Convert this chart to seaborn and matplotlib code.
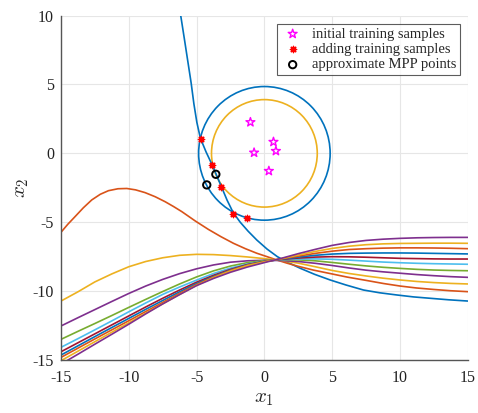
import numpy as np
import pandas as pd
import matplotlib
matplotlib.use("Agg")
import matplotlib.pyplot as plt
from matplotlib.patches import Circle
import seaborn as sns

# MATLAB default colour order
BLUE = "#0072BD"
ORANGE = "#D95319"
YELLOW = "#EDB120"
PURPLE = "#7E2F8E"
GREEN = "#77AC30"
LBLUE = "#4DBEEE"
DRED = "#A2142F"

# limit state curve
limit_x = [-6.17, -5.9, -5.65, -5.4, -5.2, -4.98, -4.72, -4.3, -3.85, -3.5, -3.17, -2.75, -2.3,
           -1.78, -1.2, -0.56, 0.2, 0.96, 1.8, 2.64, 3.7, 4.85, 6.0, 7.31, 8.5, 9.77, 11.0,
           12.23, 13.6, 15.0]
limit_y = [10.0, 8.3, 6.7, 5.1, 3.6, 2.25, 1.1, 0.1, -0.84, -1.65, -2.42, -3.4, -4.3,
           -5.0, -5.65, -6.29, -6.95, -7.5, -7.95, -8.34, -8.78, -9.19, -9.55, -9.92, -10.12,
           -10.28, -10.42, -10.52, -10.63, -10.72]

# second curve with hump
hump_x = [-15, -14.5, -13.97, -13.35, -12.73, -12.1, -11.5, -10.8, -10.15, -9.5, -8.8, -8.05,
          -7.32, -6.7, -6.09, -5.11, -4.13, -3.2, -2.28, -1.4, -0.56, 0.2, 0.92, 1.7, 2.5, 3.6,
          4.73, 6.1, 7.5, 8.8, 10, 11.2, 12.5, 13.7, 15]
hump_y = [-5.73, -5.15, -4.6, -3.95, -3.38, -2.97, -2.71, -2.57, -2.55, -2.65, -2.85, -3.15,
          -3.51, -3.86, -4.23, -4.9, -5.52, -6.05, -6.53, -6.92, -7.25, -7.5, -7.74, -7.98,
          -8.2, -8.47, -8.7, -8.98, -9.22, -9.45, -9.63, -9.77, -9.88, -9.97, -10.04]

# remaining iterations share an x grid
family_x = [-15, -13.75, -12.5, -11.25, -10, -8.75, -7.5, -6.25, -5, -3.75, -2.5, -1.25, 0,
            1.25, 2.5, 3.75, 5, 6.25, 7.5, 8.75, 10, 11.25, 12.5, 13.75, 15]
curve3_y = [-10.72, -10.05, -9.33, -8.75, -8.23, -7.85, -7.58, -7.4, -7.33, -7.35, -7.42, -7.52,
            -7.64, -7.78, -7.97, -8.23, -8.5, -8.72, -8.9, -9.06, -9.19, -9.3, -9.38, -9.44, -9.48]
curve4_y = [-12.53, -11.93, -11.34, -10.75, -10.17, -9.63, -9.15, -8.73, -8.38, -8.1, -7.9, -7.8,
            -7.76, -7.78, -7.85, -7.98, -8.14, -8.32, -8.48, -8.6, -8.7, -8.8, -8.88, -8.95, -9.0]
curve5_y = [-13.5, -12.92, -12.35, -11.77, -11.18, -10.6, -10.03, -9.48, -8.97, -8.53, -8.18, -7.93,
            -7.78, -7.72, -7.73, -7.8, -7.92, -8.05, -8.17, -8.27, -8.35, -8.42, -8.47, -8.5, -8.52]
curve6_y = [-14.08, -13.45, -12.81, -12.16, -11.5, -10.86, -10.24, -9.7, -9.2, -8.72, -8.33, -8.03,
            -7.83, -7.72, -7.67, -7.66, -7.69, -7.75, -7.82, -7.89, -7.94, -7.98, -8.01, -8.03, -8.05]
curve7_y = [-14.4, -13.75, -13.1, -12.45, -11.8, -11.15, -10.52, -9.92, -9.35, -8.85, -8.42, -8.07,
            -7.84, -7.7, -7.6, -7.53, -7.5, -7.51, -7.54, -7.58, -7.62, -7.64, -7.66, -7.67, -7.67]
curve8_y = [-14.64, -13.97, -13.3, -12.64, -11.98, -11.32, -10.68, -10.05, -9.45, -8.92, -8.47, -8.1,
            -7.85, -7.68, -7.53, -7.4, -7.31, -7.26, -7.24, -7.23, -7.23, -7.24, -7.26, -7.28, -7.3]
curve9_y = [-14.81, -14.14, -13.47, -12.81, -12.15, -11.48, -10.82, -10.16, -9.52, -8.97, -8.5, -8.12,
            -7.86, -7.66, -7.46, -7.26, -7.1, -6.98, -6.92, -6.88, -6.86, -6.86, -6.87, -6.89, -6.92]
curve10_y = [-15.05, -14.36, -13.67, -12.98, -12.3, -11.6, -10.92, -10.24, -9.58, -9.02, -8.54, -8.15,
             -7.88, -7.64, -7.38, -7.12, -6.9, -6.74, -6.63, -6.57, -6.54, -6.53, -6.52, -6.52, -6.53]
curve11_y = [-15.3, -14.58, -13.85, -13.13, -12.4, -11.65, -10.93, -10.25, -9.6, -9.08, -8.63, -8.25,
             -7.93, -7.62, -7.28, -6.97, -6.68, -6.47, -6.32, -6.23, -6.17, -6.13, -6.11, -6.1, -6.1]

# circles centred at origin
outer_radius = 4.85
inner_radius = 3.9

# samples
init_x = [-1.03, 0.67, 0.85, -0.76, 0.33]
init_y = [2.26, 0.83, 0.17, 0.05, -1.28]
add_x = [-4.69, -3.83, -3.19, -2.33, -1.3]
add_y = [1.05, -0.84, -2.42, -4.4, -4.67]
mpp_x = [-3.58, -4.25]
mpp_y = [-1.52, -2.29]

xticks = [-15, -10, -5, 0, 5, 10, 15]
yticks = [-15, -10, -5, 0, 5, 10]

sns.set_theme(style="white")
plt.rcParams["font.family"] = ["Liberation Serif", "DejaVu Serif"]
plt.rcParams["mathtext.fontset"] = "cm"

# long table of all curves
rows = []
curves = [("c1", limit_x, limit_y), ("c2", hump_x, hump_y)]
for i, cy in enumerate([curve3_y, curve4_y, curve5_y, curve6_y, curve7_y,
                        curve8_y, curve9_y, curve10_y, curve11_y]):
    curves.append((f"c{i + 3}", family_x, cy))
for name, xs, ys in curves:
    for x, y in zip(xs, ys):
        rows.append({"curve": name, "x1": x, "x2": y})
df = pd.DataFrame(rows)
palette = [BLUE, ORANGE, YELLOW, PURPLE, GREEN, LBLUE, DRED, BLUE, ORANGE, YELLOW, PURPLE]

fig = plt.figure(figsize=(4.78, 4.13), dpi=100)
ax = fig.add_axes([0.1276, 0.1283, 0.851, 0.834])

sns.lineplot(data=df, x="x1", y="x2", hue="curve", palette=palette,
             estimator=None, legend=False, linewidth=1.2, ax=ax)

ax.add_patch(Circle((0, 0), outer_radius, fill=False, edgecolor=BLUE, linewidth=1.2))
ax.add_patch(Circle((0, 0), inner_radius, fill=False, edgecolor=YELLOW, linewidth=1.2))

ax.scatter(init_x, init_y, marker="*", s=45, facecolors="none", edgecolors="#FF00FF",
           linewidths=1.0, label="initial training samples", zorder=5)
ax.scatter(add_x, add_y, marker=(8, 2, 0), s=20, color="#FF0000",
           linewidths=1.0, label="adding training samples", zorder=5)
ax.scatter(mpp_x, mpp_y, marker="o", s=28, facecolors="none", edgecolors="black",
           linewidths=1.4, label="approximate MPP points", zorder=6)

ax.set_xlim(-15, 15)
ax.set_ylim(-15, 10)
ax.set_xticks(xticks)
ax.set_yticks(yticks)
ax.set_xticklabels([str(t) for t in xticks])
ax.set_yticklabels([str(t) for t in yticks])
ax.grid(True, color="#E6E6E6", linewidth=0.8)
ax.set_axisbelow(True)
for s in ["top", "right"]:
    ax.spines[s].set_visible(False)
for s in ["left", "bottom"]:
    ax.spines[s].set_color("#555555")
    ax.spines[s].set_linewidth(1.0)
ax.tick_params(direction="in", length=3, width=0.8, color="#555555",
               labelsize=11.5, labelcolor="#222222")
ax.tick_params(axis="x", pad=7)
ax.tick_params(axis="y", pad=5)
ax.set_xlabel("$x_1$", fontsize=15, labelpad=2)
ax.set_ylabel("$x_2$", fontsize=15, labelpad=1)

leg = ax.legend(loc="upper right", fontsize=10.5, frameon=True, fancybox=False,
                borderpad=0.25, handletextpad=0.5, labelspacing=0.15,
                bbox_to_anchor=(0.98, 0.976), borderaxespad=0, handlelength=1.6)
leg.get_frame().set_edgecolor("#333333")
leg.get_frame().set_linewidth(0.8)

plt.savefig("out.png", dpi=100)
plt.close()
